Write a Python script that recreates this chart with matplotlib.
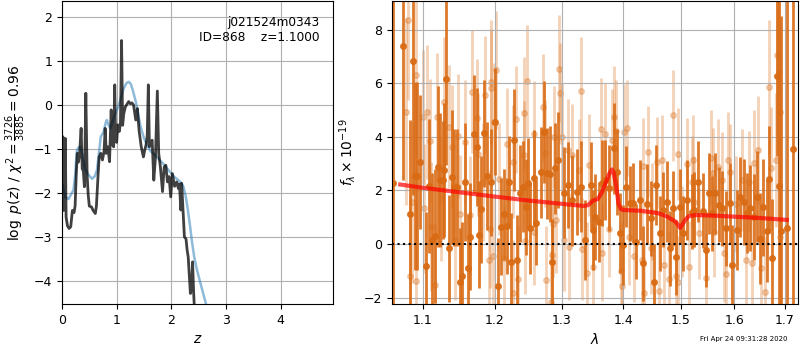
import numpy as np
import matplotlib.pyplot as plt
from matplotlib.ticker import NullLocator

# ---- p(z) panel data ----
z_grid = [0.000, 0.015, 0.030, 0.045, 0.060, 0.075, 0.10, 0.13, 0.16, 0.19, 0.22, 0.24,
          0.26, 0.28, 0.30, 0.32, 0.35, 0.37, 0.39, 0.41, 0.436, 0.46, 0.48, 0.50, 0.54,
          0.57, 0.61, 0.63, 0.66, 0.68, 0.71, 0.74, 0.77, 0.79, 0.81, 0.84, 0.87, 0.90,
          0.92, 0.945, 0.965, 0.98, 1.00, 1.02, 1.05, 1.07, 1.09, 1.11, 1.13, 1.16, 1.19,
          1.22, 1.25, 1.28, 1.31, 1.35, 1.38, 1.41, 1.45, 1.49, 1.51, 1.54, 1.56, 1.58,
          1.60, 1.62, 1.65, 1.68, 1.71, 1.745, 1.77, 1.80, 1.84, 1.87, 1.90, 1.93, 1.96,
          1.99, 2.02, 2.06, 2.10, 2.13, 2.15, 2.175, 2.19, 2.22, 2.24, 2.27, 2.29, 2.31,
          2.35, 2.37, 2.39, 2.41, 2.43]
log_pz = [-2.32, -0.72, -2.40, -2.30, -0.76, -2.55, -2.75, -2.81, -2.77, -2.40, -2.45, -2.30,
          -1.60, -1.10, -1.30, -1.15, -0.53, -1.45, -1.50, -1.86, 0.27, -1.60, -2.05, -2.30, -2.32,
          -2.40, -2.47, -2.30, -1.60, -1.18, -1.10, -1.25, -1.05, -0.53, -1.10, -0.95, -1.29, -0.11,
          -0.90, -0.95, 0.46, -0.75, -0.85, -0.45, -0.60, -0.40, 1.47, -0.46, -0.20, -0.04, 0.02,
          0.08, 0.03, 0.05, 0.00, -0.34, -0.08, -0.57, -0.95, -1.18, -1.05, -0.90, -0.70, 0.46,
          -0.95, -0.87, -0.80, -1.71, -1.20, 0.32, -1.10, -1.40, -1.97, -1.41, -1.37, -1.75, -1.63,
          -2.09, -1.56, -1.85, -1.75, -1.90, -1.80, -2.39, -1.78, -2.51, -3.00, -3.05, -3.30, -3.46,
          -4.29, -4.20, -3.57, -4.29, -4.80]

z_prior = [0.00, 0.025, 0.06, 0.12, 0.18, 0.21, 0.24, 0.27, 0.30, 0.33, 0.37, 0.42, 0.48,
           0.55, 0.60, 0.64, 0.68, 0.71, 0.76, 0.80, 0.82, 0.85, 0.885, 0.95, 1.04, 1.13,
           1.18, 1.22, 1.26, 1.30, 1.35, 1.40, 1.44, 1.50, 1.56, 1.62, 1.69, 1.75, 1.81,
           1.87, 1.93, 2.00, 2.05, 2.12, 2.17, 2.22, 2.26, 2.30, 2.34, 2.38, 2.42, 2.47,
           2.52, 2.58, 2.64, 2.70]
log_prior = [-1.78, -1.90, -2.10, -2.14, -2.00, -1.94, -1.60, -1.05, -0.97, -0.95, -1.10, -1.45, -1.58,
             -1.68, -1.62, -1.48, -1.05, -0.72, -0.62, -0.40, -0.34, -0.45, -0.53, -0.28, 0.00, 0.38,
             0.50, 0.53, 0.48, 0.32, 0.08, -0.25, -0.50, -0.75, -0.92, -1.05, -1.12, -1.20, -1.28,
             -1.36, -1.45, -1.56, -1.63, -1.70, -1.76, -1.85, -2.05, -2.35, -2.72, -3.12, -3.46, -3.75,
             -3.99, -4.27, -4.55, -4.85]

# ---- spectrum panel data (flux in 1e-19) ----
wave_a = [1.062, 1.075, 1.083, 1.087, 1.090, 1.093, 1.097, 1.105, 1.108, 1.113, 1.117, 1.120,
          1.124, 1.127, 1.129, 1.132, 1.135, 1.139, 1.142, 1.147, 1.150, 1.154, 1.158, 1.162,
          1.165, 1.170, 1.174, 1.177, 1.180, 1.185, 1.189, 1.195,
          1.200, 1.204, 1.209, 1.213, 1.217, 1.221, 1.224, 1.228, 1.232, 1.237, 1.241, 1.245,
          1.249, 1.252, 1.257, 1.261, 1.268, 1.273, 1.277, 1.282, 1.285, 1.290, 1.295, 1.304,
          1.310, 1.317, 1.324, 1.330, 1.337, 1.346,
          1.350, 1.354, 1.360, 1.365, 1.370, 1.376, 1.385, 1.390, 1.395, 1.399, 1.405, 1.411,
          1.416, 1.422, 1.428, 1.434, 1.441, 1.447, 1.453, 1.457, 1.463, 1.469, 1.475, 1.481,
          1.487, 1.492, 1.498, 1.504, 1.512, 1.521,
          1.524, 1.531, 1.540, 1.546, 1.552, 1.558, 1.564, 1.570, 1.577, 1.583, 1.591, 1.596,
          1.605, 1.611, 1.618, 1.625, 1.631, 1.638, 1.644, 1.650, 1.656, 1.663, 1.668, 1.673,
          1.683, 1.689, 1.693, 1.705, 1.716]
flux_a = [2.29, 7.39, 1.12, 6.83, 2.54, 2.54, 3.06, -0.82, 2.16, 0.15, 0.30, 2.88,
          2.39, 2.39, 2.76, 6.14, -0.16, 2.51, 2.11, 2.11, -1.41, -1.19, 2.30, -0.88,
          0.27, 4.09, 3.63, 0.34, 1.29, 4.13, 2.54, 2.30,
          4.56, -1.57, 0.65, 1.11, 0.68, 2.33, -0.66, 3.88, -0.60, 1.89, 2.14, 1.39,
          2.26, 0.58, 2.45, 0.80, 2.68, 4.19, 2.64, 2.61, -0.66, 2.82, 3.13, 1.91,
          2.20, 1.64, 1.95, 2.14, 0.15, 2.20,
          0.52, 1.02, 0.83, 2.29, 2.39, 2.08, 3.57, 2.70, 0.40, -0.04, 2.14, 1.52,
          1.54, 0.09, 1.64, -0.72, 1.49, 0.96, -1.41, 2.20, 0.40, 1.27, 1.58, -0.16,
          1.33, -0.50, 1.39, 0.40, 1.64, 1.21,
          1.27, 2.33, 1.24, -0.22, 1.89, 1.15, 1.89, 1.46, 1.33, 0.59, 1.52, -0.78,
          0.52, 1.76, 1.58, 1.15, 1.33, 1.02, 1.76, 0.19, 1.37, 0.49, 2.41, -0.51,
          6.27, 2.16, 0.50, 0.60, 3.54]
err_a = [8.0, 5.0, 3.5, 5.0, 3.5, 3.5, 2.5,
         2.0, 2.5, 2.5, 2.5, 3.0, 2.5, 2.2, 2.5, 3.2, 2.0, 2.5, 2.2, 2.2, 2.0, 2.0, 2.2, 2.0,
         2.0, 2.2, 2.2, 2.0, 2.0, 2.0, 2.0, 2.0,
         2.0, 1.8, 1.8, 1.7, 1.8, 1.7, 1.8, 1.9, 1.7, 1.8, 1.7, 1.8, 1.7, 1.7, 1.8, 1.6,
         1.7, 1.9, 1.7, 1.8, 1.6, 1.7, 1.8, 1.7, 1.6, 1.7, 1.6, 1.7, 1.5, 1.6,
         1.5, 1.6, 1.5, 1.6, 1.5, 1.6, 1.7, 1.6, 1.5, 1.5, 1.5, 1.4, 1.5, 1.4, 1.5, 1.4,
         1.5, 1.4, 1.4, 1.5, 1.4, 1.4, 1.5, 1.4, 1.4, 1.4, 1.4, 1.4, 1.5, 1.4,
         1.4, 1.5, 1.4, 1.4, 1.5, 1.4, 1.5, 1.4, 1.4, 1.4, 1.5, 1.5, 1.5, 1.5, 1.6, 1.5,
         1.6, 1.6, 1.7, 1.7, 1.8, 1.9, 2.0, 2.2,
         3.0, 7.0, 8.0, 9.0, 8.0]

wave_b = [1.078, 1.081, 1.084, 1.086, 1.091, 1.092,
          1.100, 1.102, 1.106, 1.110, 1.111, 1.116, 1.119, 1.125, 1.129, 1.136, 1.140, 1.144,
          1.148, 1.150, 1.157, 1.164, 1.168, 1.175, 1.176, 1.183, 1.186, 1.191, 1.193, 1.194,
          1.195, 1.197, 1.198,
          1.201, 1.206, 1.213, 1.217, 1.226, 1.227, 1.230, 1.234, 1.242, 1.243, 1.244, 1.247,
          1.257, 1.258, 1.272, 1.275, 1.276, 1.283, 1.285, 1.287, 1.288, 1.292, 1.296, 1.297,
          1.301, 1.304, 1.310, 1.312, 1.317, 1.327, 1.331, 1.332, 1.340, 1.343, 1.350,
          1.363, 1.365, 1.369, 1.377, 1.381, 1.384, 1.388, 1.396, 1.398, 1.402, 1.407, 1.409,
          1.419, 1.432, 1.433, 1.435, 1.442, 1.448, 1.450, 1.458, 1.461, 1.467, 1.470, 1.479,
          1.486, 1.491, 1.495, 1.496, 1.503, 1.512, 1.515, 1.521,
          1.523, 1.525, 1.533, 1.546, 1.555, 1.560, 1.562, 1.569, 1.577, 1.580, 1.584, 1.588,
          1.591, 1.603, 1.615, 1.623, 1.628, 1.634, 1.638, 1.646, 1.652, 1.659, 1.668, 1.671,
          1.681, 1.683, 1.688, 1.690, 1.691]
flux_b = [4.94, 8.36, -1.19, 1.56, 6.31, -1.38,
          4.75, 1.33, 4.94, 3.85, 0.65, -1.53, 4.73, 1.67, 5.31, 4.38, 3.63, 0.12,
          4.03, 1.12, 3.82, 1.08, 5.68, 4.69, 3.35, 2.33, 5.56, -0.60, 0.55, 6.06,
          5.81, -0.45, 4.56,
          6.49, 2.43, -0.53, 3.73, -1.84, 3.07, 4.66, -1.32, 4.88, 3.32, 0.12, 6.08,
          4.10, 0.46, 5.10, 3.38, -1.34, -2.15, -0.41, 0.75, 4.00, 0.90, 6.55, 5.62,
          4.00, 0.15, 3.51, -0.10, 3.32, 2.76, 5.71, -0.20, -1.09, 2.95, -0.85,
          4.28, -0.32, 4.10, 0.55, 3.88, 4.73, 4.22, -0.99, -1.57, 4.17, 4.32, 0.27,
          -0.45, -0.60, 2.91, -1.82, 3.44, -0.16, 1.21, 3.05, -1.74, 3.13, -0.78, -1.32,
          4.81, -1.19, 3.36, -1.41, 0.46, 2.99, -0.85, 2.33,
          3.13, 1.58, 0.40, -1.28, 3.20, 2.64, 0.46, 2.88, 2.39, -0.35, -1.13, 3.13,
          2.68, 1.49, 2.39, -0.60, 2.33, -0.72, 3.01, 3.51, -0.91, -1.80, 5.85, 2.82,
          3.13, 7.05, 6.43, 4.94, 0.27]
err_b = [3.5, 3.0, 3.0, 3.0, 3.0, 3.0,
         2.5, 2.4, 2.5, 2.3, 2.4, 2.3, 2.4, 2.3, 2.4, 2.3, 2.3, 2.2, 2.3, 2.2, 2.3, 2.2, 2.3,
         2.2, 2.3, 2.2, 2.2, 2.3, 2.2, 2.3, 2.2, 2.2, 2.2,
         2.2, 2.1, 2.0, 2.1, 2.0, 2.1, 2.0, 2.0, 2.1, 2.0, 2.0, 2.1, 2.0, 2.0, 2.0, 2.0,
         2.0, 1.9, 2.0, 2.0, 1.9, 2.0, 2.0, 1.9, 2.0, 1.9, 1.9, 2.0, 1.9, 1.9, 2.0, 1.9,
         1.9, 1.9, 1.9,
         1.9, 1.8, 1.9, 1.8, 1.9, 1.9, 1.9, 1.8, 1.8, 1.8, 1.8, 1.8, 1.7, 1.8, 1.8, 1.8,
         1.7, 1.7, 1.8, 1.7, 1.8, 1.7, 1.7, 1.8, 1.7, 1.7, 1.7, 1.7, 1.7, 1.7, 1.7, 1.7,
         1.7, 1.7, 1.7, 1.7, 1.8, 1.7, 1.7, 1.8, 1.8, 1.8, 1.8, 1.8, 1.8, 1.8, 1.9, 1.9,
         1.9, 1.9, 2.0, 2.0, 2.0, 2.1, 2.5, 2.3, 2.5, 3.0, 3.0, 2.8, 2.8]

# best-fit model
wave_model = [1.071, 1.10, 1.15, 1.20, 1.25, 1.30, 1.335, 1.342, 1.350, 1.358, 1.365, 1.372,
              1.377, 1.381, 1.384, 1.388, 1.392, 1.396, 1.400, 1.43, 1.46, 1.476, 1.491,
              1.499, 1.503, 1.508, 1.515, 1.527, 1.56, 1.60, 1.65, 1.704]
flux_model = [2.22, 2.10, 1.93, 1.77, 1.62, 1.50, 1.42, 1.45, 1.62, 1.68, 1.95, 2.35,
              2.64, 2.78, 2.65, 2.20, 1.50, 1.30, 1.27, 1.24, 1.15, 1.02, 0.83,
              0.60, 0.72, 0.90, 1.04, 1.08, 1.06, 1.02, 0.97, 0.90]

wave_ticks = [1.1, 1.2, 1.3, 1.4, 1.5, 1.6, 1.7]
spec_color = '#d96b14'

fig = plt.figure(figsize=(8, 3.5), dpi=100)
ax1 = fig.add_axes([62/800, 46/350, 271/800, 303/350])
ax2 = fig.add_axes([392/800, 46/350, 406/800, 303/350])

# p(z)
ax1.plot(z_prior, log_prior, color='tab:blue', alpha=0.5, lw=1.8)
ax1.plot(z_grid, log_pz, color='k', alpha=0.75, lw=2)
ax1.set_xlim(0, 4.96)
ax1.set_ylim(-4.53, 2.37)
ax1.set_xticks([0, 1, 2, 3, 4])
ax1.set_yticks([-4, -3, -2, -1, 0, 1, 2])
ax1.grid()
ax1.set_xlabel(r'$z$', fontsize=10)
ax1.set_ylabel(r'$\log\ p(z)$ / $\chi^2=\frac{3726}{3885}=0.96$', fontsize=10)
ax1.text(0.95, 0.95, 'j021524m0343\nID=868    z=1.1000', ha='right', va='top',
         transform=ax1.transAxes, fontsize=8.7)
ax1.tick_params(labelsize=9)

# spectrum
ax2.errorbar(wave_b, flux_b, yerr=err_b, marker='o', ms=4, linestyle='None',
             color=spec_color, alpha=0.3, elinewidth=2, zorder=1)
ax2.errorbar(wave_a, flux_a, yerr=err_a, marker='o', ms=4, linestyle='None',
             color=spec_color, alpha=0.9, elinewidth=2, zorder=2)
ax2.plot(wave_model, flux_model, color='r', alpha=0.7, lw=3, zorder=3)
ax2.axhline(0, color='k', linestyle=':', lw=1.5, zorder=4)
ax2.set_xscale('log')
ax2.set_xlim(1.0604, 1.727)
ax2.set_ylim(-2.24, 9.07)
ax2.set_xticks(wave_ticks)
ax2.set_xticklabels([f'{w:.1f}' for w in wave_ticks])
ax2.xaxis.set_minor_locator(NullLocator())
ax2.set_yticks([-2, 0, 2, 4, 6, 8])
ax2.grid()
ax2.set_xlabel(r'$\lambda$', fontsize=10)
ax2.set_ylabel(r'$f_\lambda\times10^{-19}$', fontsize=10)
ax2.tick_params(labelsize=9)

fig.text(0.985, 0.031, 'Fri Apr 24 09:31:28 2020', ha='right', va='center', fontsize=5)

plt.savefig('out.png', dpi=100)
